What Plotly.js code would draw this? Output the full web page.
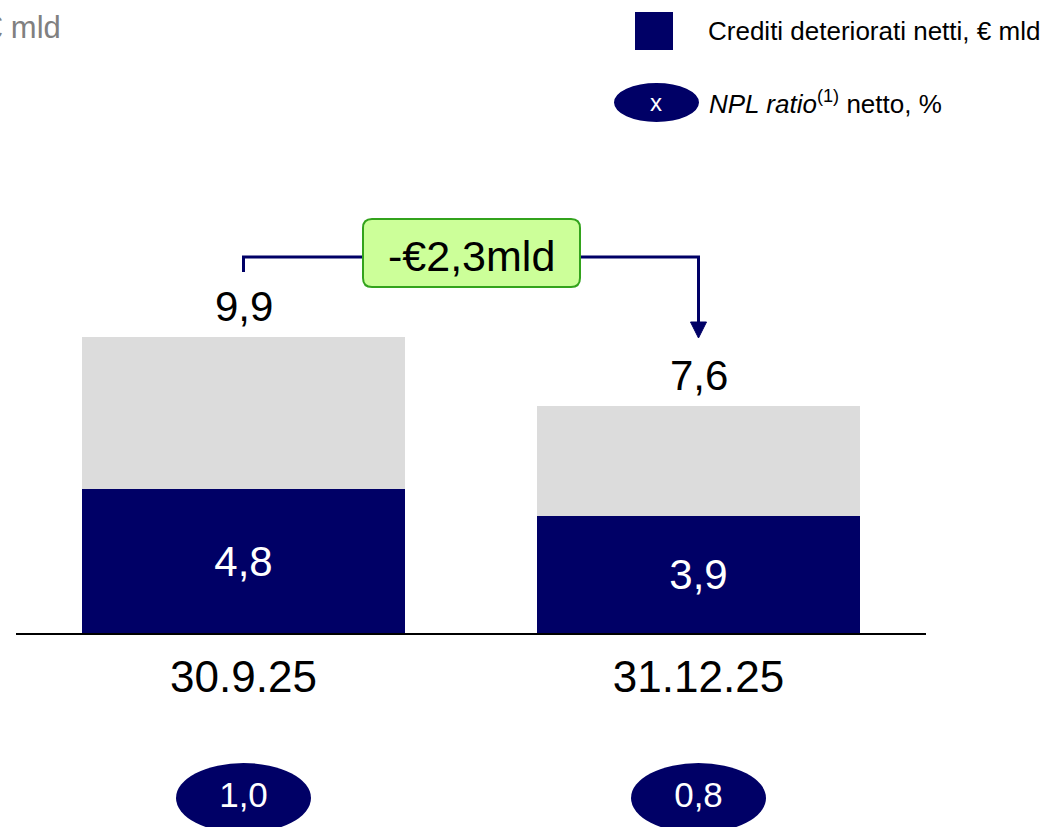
<!DOCTYPE html>
<html>
<head>
<meta charset="utf-8">
<script src="https://cdn.plot.ly/plotly-3.0.1.min.js"></script>
<style>
  html, body { margin: 0; padding: 0; background: #ffffff; }
  #chart { width: 1050px; height: 827px; }
</style>
</head>
<body>
<div id="chart"></div>
<script>
// ---- data ----
const categories = ['30.9.25', '31.12.25'];
const creditiNetti = [4.8, 3.9];          // Crediti deteriorati netti, € mld (dark)
const altro = [5.1, 3.7];                 // remaining part of the bar (grey)
const totals = [9.9, 7.6];                // bar totals
const nplRatio = [1.0, 0.8];              // NPL ratio netto, %
const deltaLabel = '-€2,3mld';

// ---- styles ----
const NAVY = '#000066';
const GREY = '#dcdcdc';
const FONT = 'Liberation Sans, Arial, sans-serif';

// layout helpers (page pixel -> paper coords)
const W = 1050, H = 827;
const ML = 16, MR = 124, MT = 214, MB = 0;
const PW = W - ML - MR, PH = H - MT - MB;
const px = x => (x - ML) / PW;
const py = y => (H - MB - y) / PH;
const baseY = 633;                         // x axis line position (page px)
const yDomLow = (H - MB - baseY) / PH;
const YMAX = 14.0;
const unitPx = (baseY - MT) / YMAX;        // px per data unit
const catPx = PW / 2;                      // px per category
const dx = p => p / catPx;                 // px -> x units
const dy = p => p / unitPx;                // px -> y units

const traces = [
  {
    type: 'bar', name: 'Crediti deteriorati netti, € mld',
    x: categories, y: creditiNetti,
    marker: { color: NAVY }, width: 0.712,
    texttemplate: '%{y:.1f}', textposition: 'inside', insidetextanchor: 'middle',
    textfont: { color: '#ffffff', size: 42, family: FONT },
    hoverinfo: 'none', showlegend: false
  },
  {
    type: 'bar', name: 'Altro',
    x: categories, y: altro,
    marker: { color: GREY }, width: 0.712,
    textposition: 'none', hoverinfo: 'none', showlegend: false
  },
  {
    type: 'scatter', mode: 'text', name: 'NPL ratio netto, %',
    x: categories, y: nplRatio.map(() => 29), yaxis: 'y2',
    text: nplRatio.map(v => v.toFixed(1).replace('.', ',')),
    textfont: { color: '#ffffff', size: 35, family: FONT },
    textposition: 'middle center', hoverinfo: 'none', showlegend: false,
    cliponaxis: false
  }
];

const shapes = [];
const annotations = [];

// NPL ratio ellipses
categories.forEach((c, i) => {
  shapes.push({
    type: 'circle', xref: 'x', yref: 'y2', layer: 'below',
    x0: i - dx(67.5), x1: i + dx(67.5), y0: 29 - 35, y1: 29 + 35,
    fillcolor: NAVY, line: { width: 0 }
  });
});

// totals above bars
totals.forEach((t, i) => {
  annotations.push({
    xref: 'x', yref: 'y', x: i, y: t + dy(30), text: t.toFixed(1).replace('.', ','),
    showarrow: false, xanchor: 'center', yanchor: 'middle',
    font: { size: 42, color: '#000000', family: FONT }
  });
});

// bracket with arrow
const yLine = dy(baseY - 257);
const yLeftEnd = dy(baseY - 272);
const tipY = dy(baseY - 338);
const headH = dy(16), headW = dx(8);
shapes.push({
  type: 'path', xref: 'x', yref: 'y',
  path: `M 0,${yLeftEnd} L 0,${yLine} L 1,${yLine} L 1,${tipY + headH}`,
  line: { color: NAVY, width: 3 }
});
shapes.push({
  type: 'path', xref: 'x', yref: 'y',
  path: `M ${1 - headW},${tipY + headH} L ${1 + headW},${tipY + headH} L 1,${tipY} Z`,
  fillcolor: NAVY, line: { color: NAVY, width: 1 }
});

// green rounded box
const bx0 = dx(363 - 243.5), bx1 = dx(580 - 243.5);
const by0 = dy(baseY - 287), by1 = dy(baseY - 219);
const rx = dx(9), ry = dy(9);
shapes.push({
  type: 'path', xref: 'x', yref: 'y',
  path: `M ${bx0 + rx},${by0} L ${bx1 - rx},${by0} Q ${bx1},${by0} ${bx1},${by0 + ry} ` +
        `L ${bx1},${by1 - ry} Q ${bx1},${by1} ${bx1 - rx},${by1} ` +
        `L ${bx0 + rx},${by1} Q ${bx0},${by1} ${bx0},${by1 - ry} ` +
        `L ${bx0},${by0 + ry} Q ${bx0},${by0} ${bx0 + rx},${by0} Z`,
  fillcolor: '#ccff99', line: { color: '#33a31c', width: 2 }
});
annotations.push({
  xref: 'x', yref: 'y', x: 0.5, y: dy(baseY - 256), text: deltaLabel,
  showarrow: false, xanchor: 'center', yanchor: 'middle',
  font: { size: 43, color: '#000000', family: FONT }
});

// unit label top-left (partly cut off, as in the original)
annotations.push({
  xref: 'paper', yref: 'paper', x: px(63), y: py(27), text: '€ mld',
  showarrow: false, xanchor: 'right', yanchor: 'middle',
  font: { size: 31, color: '#808080', family: FONT }
});

// legend (manual)
shapes.push({
  type: 'rect', xref: 'paper', yref: 'paper',
  x0: px(635), x1: px(673), y0: py(50), y1: py(12),
  fillcolor: NAVY, line: { width: 0 }
});
annotations.push({
  xref: 'paper', yref: 'paper', x: px(706), y: py(31), text: 'Crediti deteriorati netti, € mld',
  showarrow: false, xanchor: 'left', yanchor: 'middle',
  font: { size: 26, color: '#000000', family: FONT }
});
shapes.push({
  type: 'circle', xref: 'paper', yref: 'paper',
  x0: px(614), x1: px(699), y0: py(122), y1: py(83),
  fillcolor: NAVY, line: { width: 0 }
});
annotations.push({
  xref: 'paper', yref: 'paper', x: px(656), y: py(103), text: 'x',
  showarrow: false, xanchor: 'center', yanchor: 'middle',
  font: { size: 24, color: '#ffffff', family: FONT }
});
annotations.push({
  xref: 'paper', yref: 'paper', x: px(707), y: py(103),
  text: '<i>NPL ratio</i><sup>(1)</sup> netto, %',
  showarrow: false, xanchor: 'left', yanchor: 'middle',
  font: { size: 26, color: '#000000', family: FONT }
});

const layout = {
  width: W, height: H,
  margin: { l: ML, r: MR, t: MT, b: MB, pad: 0 },
  paper_bgcolor: '#ffffff', plot_bgcolor: '#ffffff',
  barmode: 'stack', separators: ',.',
  showlegend: false,
  font: { family: FONT, color: '#000000' },
  xaxis: {
    type: 'category', range: [-0.5, 1.5], anchor: 'y',
    showgrid: false, zeroline: false, ticks: '',
    showline: true, linecolor: '#000000', linewidth: 2,
    tickfont: { size: 44, color: '#000000', family: FONT },
    ticklabelstandoff: 4, fixedrange: true
  },
  yaxis: {
    domain: [yDomLow, 1], range: [0, YMAX], visible: false, fixedrange: true
  },
  yaxis2: {
    domain: [0, yDomLow], range: [0, H - MB - baseY], visible: false,
    anchor: 'x', fixedrange: true
  },
  shapes: shapes,
  annotations: annotations
};

Plotly.newPlot('chart', traces, layout, { displayModeBar: false, staticPlot: true });
</script>
</body>
</html>
